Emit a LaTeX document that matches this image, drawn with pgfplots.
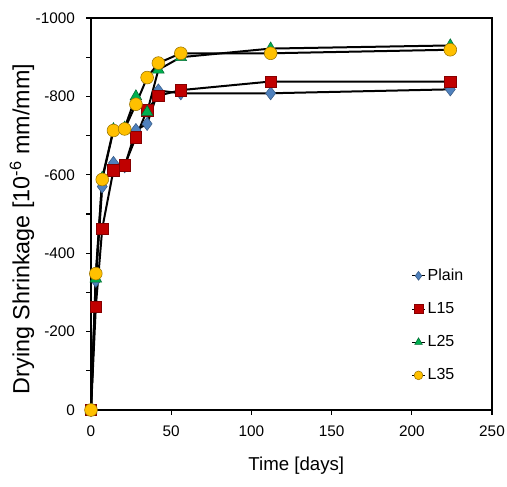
\documentclass[border=0pt]{standalone}
\usepackage{fontspec}
\setmainfont{Liberation Sans}
\usepackage{pgfplots}
\pgfplotsset{compat=1.18}

\definecolor{cPlain}{HTML}{4F81BD}
\definecolor{cL15}{HTML}{C00000}
\definecolor{cL25}{HTML}{00B050}
\definecolor{cL35}{HTML}{FFC000}

\begin{document}
\begin{tikzpicture}
\begin{axis}[
  scale only axis,
  width=300.75pt, height=294pt,
  xmin=0, xmax=250, ymin=-1000, ymax=0,
  y dir=reverse,
  xtick={0,50,...,250},
  ytick={-1000,-800,-600,-400,-200,0},
  yticklabels={-1000,-800,-600,-400,-200,0},
  minor ytick={-900,-700,-500,-300,-100},
  xtick pos=bottom, ytick pos=left,
  tick align=outside,
  major tick length=3.5pt, minor tick length=3.5pt,
  tick style={black, line width=0.9pt},
  axis line style={black, line width=1.4pt},
  /pgf/number format/assume math mode=true,
  tick label style={font=\fontsize{11.5}{13}\selectfont},
  yticklabel style={xshift=-5pt},
  xticklabel style={yshift=-5pt},
  xlabel={Time [days]},
  ylabel={Drying Shrinkage [10\textsuperscript{-6} mm/mm]},
  xlabel style={font=\fontsize{14}{16}\selectfont,
    at={(axis description cs:0.512,-0.143)}, anchor=center},
  ylabel style={font=\fontsize{17.5}{19}\selectfont,
    at={(axis description cs:-0.172,0.462)}, anchor=center},
  legend style={draw=none, fill=none, at={(0.79,0.374)}, anchor=north west,
    font=\fontsize{12}{14}\selectfont, row sep=11pt},
  legend cell align=left,
  legend image code/.code={%
    \draw[mark repeat=2,mark phase=2,#1,line width=0.6pt,mark size=3.3pt]
      plot coordinates {(0cm,0cm)(0.16cm,0cm)(0.32cm,0cm)};},
]
\addplot[black, line width=1.5pt, mark=diamond*, mark size=5pt,
  mark options={solid, fill=cPlain, draw=cPlain!70!black, line width=0.4pt}]
  coordinates {(0,0) (3,-330) (7,-570) (14,-630) (21,-622) (28,-714) (35,-730)
               (42,-815) (56,-808) (112,-808) (224,-818)};
\addlegendentry{Plain}
\addplot[black, line width=1.5pt, mark=square*, mark size=4.3pt,
  mark options={solid, fill=cL15, draw=cL15!70!black, line width=0.4pt}]
  coordinates {(0,0) (3,-263) (7,-463) (14,-612) (21,-624) (28,-696) (35,-765)
               (42,-802) (56,-816) (112,-838) (224,-838)};
\addlegendentry{L15}
\addplot[black, line width=1.5pt, mark=triangle*, mark size=5pt,
  mark options={solid, fill=cL25, draw=cL25!60!black, line width=0.4pt}]
  coordinates {(0,0) (3,-335) (7,-592) (14,-716) (21,-720) (28,-800) (35,-760)
               (42,-868) (56,-900) (112,-922) (224,-930)};
\addlegendentry{L25}
\addplot[black, line width=1.5pt, mark=*, mark size=4.8pt,
  mark options={solid, fill=cL35, draw=cL35!60!black, line width=0.4pt}]
  coordinates {(0,0) (3,-348) (7,-588) (14,-713) (21,-717) (28,-780) (35,-848)
               (42,-885) (56,-910) (112,-910) (224,-919)};
\addlegendentry{L35}
\end{axis}
\pgfresetboundingbox
\useasboundingbox ([xshift=-68.25pt,yshift=-57pt]current axis.south west)
  rectangle ([xshift=11.25pt,yshift=13.5pt]current axis.north east);
\end{tikzpicture}
\end{document}
